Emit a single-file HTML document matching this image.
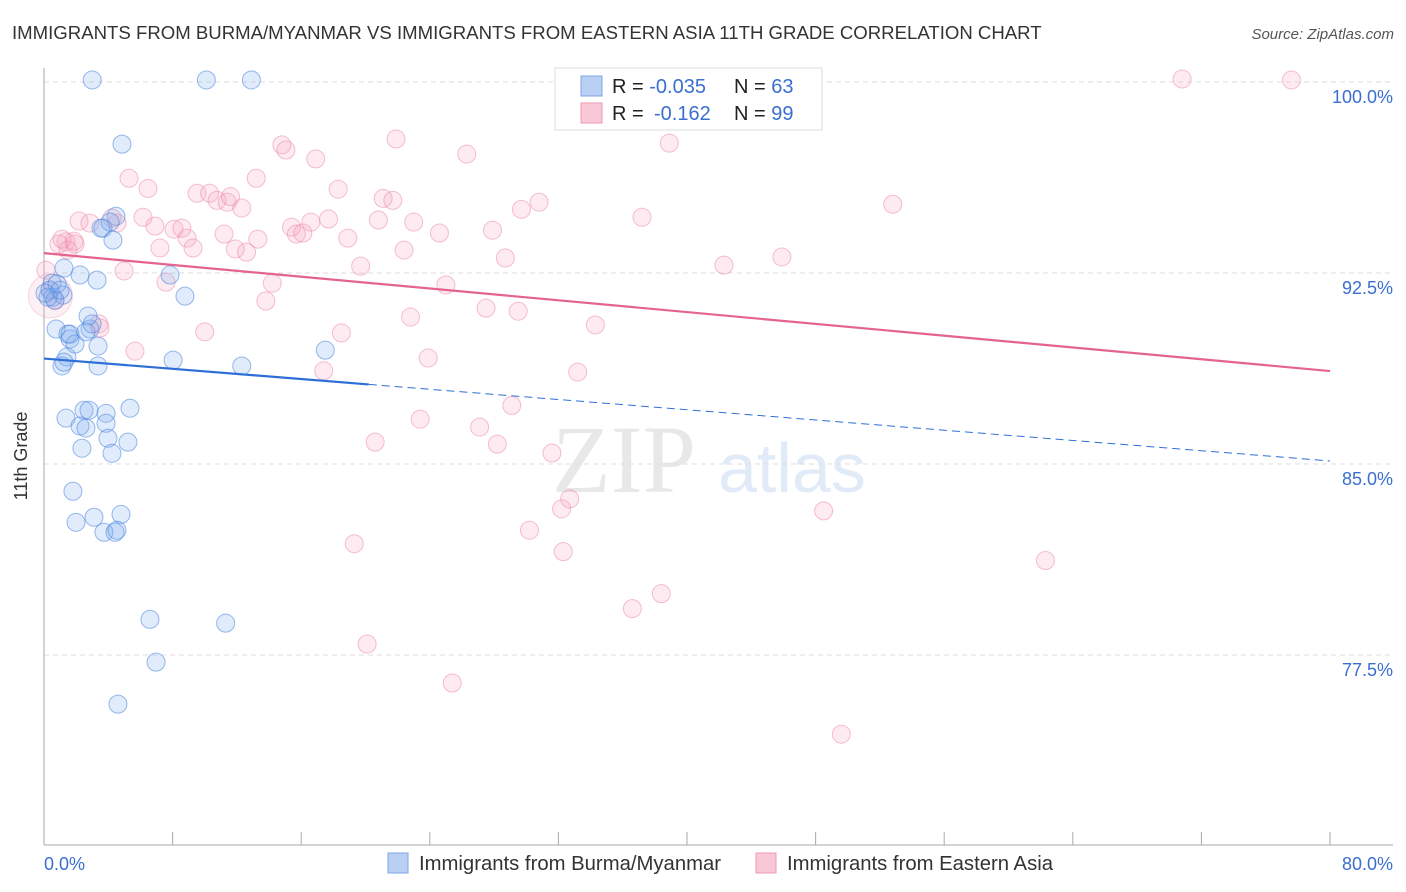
<!DOCTYPE html>
<html><head><meta charset="utf-8"><style>
body{margin:0;background:#fff;font-family:"Liberation Sans",sans-serif}
svg{display:block}
</style></head><body>
<svg id="chart" width="1406" height="892" xmlns="http://www.w3.org/2000/svg">
<text x="12" y="39" font-size="18.6" fill="#333">IMMIGRANTS FROM BURMA/MYANMAR VS IMMIGRANTS FROM EASTERN ASIA 11TH GRADE CORRELATION CHART</text>
<text x="1394" y="39" font-size="15" fill="#555" font-style="italic" text-anchor="end">Source: ZipAtlas.com</text>
<g opacity="0.22">
<text x="552" y="492" font-family="Liberation Serif" font-size="96" fill="#999">ZIP</text>
<text x="718" y="492" font-size="70" fill="#7aa6e0">atlas</text>
</g>
<g id="grid"></g>
<g id="axes"></g>
<g id="pts"></g>
<g id="lines"></g>
<text x="27" y="456" font-size="18" fill="#333" text-anchor="middle" transform="rotate(-90 27 456)">11th Grade</text>
<g>
<rect x="555" y="68" width="267" height="62" fill="#fff" stroke="#ddd"/>
<rect x="581" y="76" width="21" height="20" fill="#b9cff3" stroke="#7ea4e6"/>
<rect x="581" y="103" width="21" height="20" fill="#f9c8d7" stroke="#ef9ab5"/>
<text x="612" y="93" font-size="20" fill="#222">R = <tspan fill="#3a6fd0">-0.035</tspan><tspan x="734">N = </tspan><tspan fill="#3a6fd0">63</tspan></text>
<text x="612" y="120" font-size="20" fill="#222">R = <tspan x="654" fill="#3a6fd0">-0.162</tspan><tspan x="734">N = </tspan><tspan fill="#3a6fd0">99</tspan></text>
</g>
<g>
<rect x="388" y="853" width="20" height="20" fill="#b9cff3" stroke="#7ea4e6"/>
<text x="419" y="870" font-size="20.3" fill="#333">Immigrants from Burma/Myanmar</text>
<rect x="756" y="853" width="20" height="20" fill="#f9c8d7" stroke="#ef9ab5"/>
<text x="787" y="870" font-size="20.3" fill="#333">Immigrants from Eastern Asia</text>
</g>
</svg>
<script>
const yTicks=[100,92.5,85,77.5];
const yTickLabels=["100.0%","92.5%","85.0%","77.5%"];
const xTickVals=[0,8,16,24,32,40,48,56,64,72,80];
const xEndLabels=["0.0%","80.0%"];
const blueX=[3.0,10.1,12.9,4.85,4.48,3.67,4.29,1.24,2.24,3.3,0.5,0.37,0.56,1.18,0.68,7.84,8.77,0.75,1.49,1.62,1.93,2.86,3.36,2.74,1.43,1.12,3.36,12.3,8.03,17.5,1.37,2.49,2.8,3.86,5.35,2.24,2.61,3.86,3.98,5.22,2.36,4.23,1.8,1.99,3.11,3.73,4.42,4.79,6.59,6.97,11.3,4.6,0.25,0.81,1.0,0.06,3.55,4.11,2.61,2.99,1.24,1.62,4.54];
const blueY=[100.08,100.08,100.08,97.56,94.73,94.26,93.79,92.69,92.42,92.22,92.1,91.83,91.55,91.63,91.43,92.42,91.59,90.3,90.1,89.91,89.71,90.3,89.63,90.81,89.2,88.85,88.85,88.85,89.08,89.47,86.8,87.11,87.11,86.99,87.19,86.49,86.41,86.6,86.01,85.86,85.62,85.42,83.93,82.71,82.91,82.32,82.32,83.02,78.9,77.22,78.75,75.57,91.55,92.07,91.83,91.71,94.26,94.5,90.19,90.5,89.0,90.1,82.4];
const pinkX=[37.9,70.8,77.6,21.9,14.8,15.05,16.9,26.3,38.9,5.29,6.47,13.2,9.52,10.3,10.76,11.4,12.3,18.3,21.1,21.7,30.8,29.7,37.2,52.8,2.18,2.86,4.54,6.16,4.23,8.09,8.9,6.9,8.58,11.2,13.3,15.4,15.7,16.1,16.6,17.7,18.9,20.8,23.0,24.6,27.9,1.37,1.93,7.21,9.27,11.9,12.6,22.4,28.7,0.93,1.49,4.98,7.59,14.2,13.8,19.7,25.0,27.5,29.5,42.3,45.9,22.8,34.3,3.42,10.0,18.5,23.9,33.2,17.4,5.66,29.1,23.4,27.1,28.2,20.6,31.6,32.7,32.2,30.2,48.5,19.3,32.3,62.3,36.6,38.4,20.1,25.4,49.6,0.37,0.12,0.68,1.12,1.87,3.48,11.6];
const pinkY=[100.08,100.12,100.08,97.76,97.53,97.33,96.98,97.17,97.6,96.22,95.82,96.22,95.63,95.63,95.35,95.28,95.05,95.79,95.43,95.35,95.28,95.0,94.69,95.2,94.54,94.46,94.46,94.69,94.66,94.22,93.87,94.34,94.26,94.03,93.83,94.3,94.03,94.07,94.5,94.62,93.87,94.58,94.5,94.07,94.18,93.72,93.64,93.48,93.48,93.44,93.32,93.4,93.09,93.64,93.4,92.58,92.14,92.1,91.4,92.77,92.03,91.12,91.0,92.81,93.13,90.77,90.46,90.5,90.19,90.15,89.16,88.61,88.66,89.43,87.3,86.76,86.45,85.78,85.86,85.43,83.63,83.24,82.4,83.16,81.87,81.56,81.21,79.32,79.91,77.93,76.4,74.39,91.83,92.61,91.43,93.83,93.75,90.34,95.5];
const blueTrend={x0:0,y0:89.14,x1:80,y1:85.12,solidEnd:20.2};
const pinkTrend={x0:0,y0:93.28,x1:80,y1:88.65};

const NS="http://www.w3.org/2000/svg";
const xs=v=>44+v/80*1286;
const ys=v=>82+(100-v)/7.5*191;
function mk(tag,attrs,parent){const e=document.createElementNS(NS,tag);for(const k in attrs)e.setAttribute(k,attrs[k]);parent.appendChild(e);return e;}
const grid=document.getElementById('grid'),axes=document.getElementById('axes'),pts=document.getElementById('pts'),lines=document.getElementById('lines');
yTicks.forEach((t,i)=>{
 const l=mk('line',{x1:44,x2:1393,y1:ys(t),y2:ys(t),stroke:'#dedede','stroke-dasharray':'5,4'},grid);
 
 
 const tx=mk('text',{x:1393,y:ys(t)+21,'font-size':18,fill:'#3a6fd0','text-anchor':'end'},grid);
 tx.textContent=yTickLabels[i];
 
 
});
const ya=mk('line',{x1:44,x2:44,y1:68,y2:845,stroke:'#aaa'},axes);


const xa=mk('line',{x1:44,x2:1393,y1:845,y2:845,stroke:'#aaa'},axes);


xTickVals.forEach(v=>{
 const t=mk('line',{x1:xs(v),x2:xs(v),y1:832,y2:845,stroke:'#aaa'},axes);
 
 
});
const xl0=mk('text',{x:44,y:870,'font-size':18,fill:'#3a6fd0'},axes);xl0.textContent=xEndLabels[0];


const xl1=mk('text',{x:1393,y:870,'font-size':18,fill:'#3a6fd0','text-anchor':'end'},axes);xl1.textContent=xEndLabels[1];


const big=mk('circle',{cx:xs(0.4),cy:ys(91.6),r:22,fill:'rgba(245,170,195,0.18)',stroke:'rgba(235,140,170,0.3)'},pts);


pinkX.forEach((x,i)=>{
 const c=mk('circle',{cx:xs(x),cy:ys(pinkY[i]),r:9,fill:'rgba(245,165,190,0.22)',stroke:'rgba(235,130,165,0.5)','stroke-width':1},pts);
 
 
});
blueX.forEach((x,i)=>{
 const c=mk('circle',{cx:xs(x),cy:ys(blueY[i]),r:9,fill:'rgba(130,175,240,0.25)',stroke:'rgba(70,130,220,0.55)','stroke-width':1},pts);
 
 
});
const by=x=>blueTrend.y0+(blueTrend.y1-blueTrend.y0)*(x-blueTrend.x0)/(blueTrend.x1-blueTrend.x0);
const b1=mk('line',{x1:xs(blueTrend.x0),y1:ys(blueTrend.y0),x2:xs(blueTrend.solidEnd),y2:ys(by(blueTrend.solidEnd)),stroke:'#2d6fd6','stroke-width':2.2},lines);


const b2=mk('line',{x1:xs(blueTrend.solidEnd),y1:ys(by(blueTrend.solidEnd)),x2:xs(blueTrend.x1),y2:ys(blueTrend.y1),stroke:'#2d6fd6','stroke-width':1,'stroke-dasharray':'8,5'},lines);


const p1=mk('line',{x1:xs(pinkTrend.x0),y1:ys(pinkTrend.y0),x2:xs(pinkTrend.x1),y2:ys(pinkTrend.y1),stroke:'#e5638f','stroke-width':2.2},lines);


</script>
</body></html>
